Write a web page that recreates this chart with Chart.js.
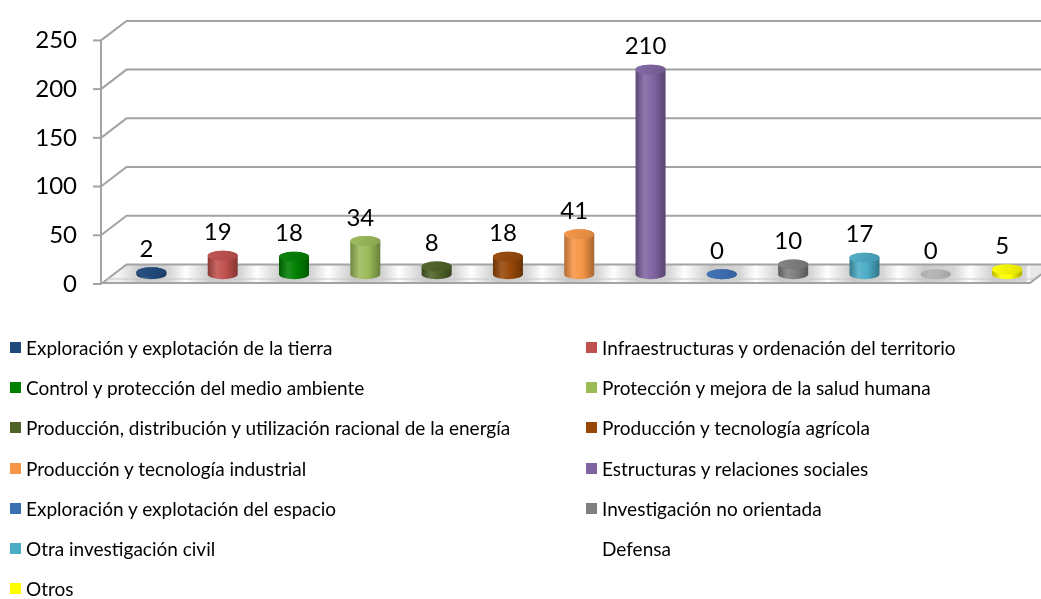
<!DOCTYPE html>
<html>
<head>
<meta charset="utf-8">
<script src="https://cdn.jsdelivr.net/npm/chart.js@4.4.1/dist/chart.umd.min.js"></script>
<style>
  html, body { margin: 0; padding: 0; background: #ffffff; }
  #wrap { position: relative; width: 1041px; height: 599px; overflow: hidden; }
  #c { position: absolute; left: 0; top: 0; }
  .lg { position: absolute; height: 22px; line-height: 22px; font-family: Lato, "Open Sans", sans-serif; font-size: 19px; color: #000; white-space: nowrap; }
  .lg .box { position: absolute; left: 0; top: 5px; width: 11px; height: 11px; }
  .lg .txt { position: absolute; left: 16px; top: 0; }
</style>
</head>
<body>
<div id="wrap">
  <canvas id="c" width="1041" height="599"></canvas>
  <div id="legend"></div>
</div>
<script>
// ---- data ----
const categories = [
  "Exploración y explotación de la tierra",
  "Infraestructuras y ordenación del territorio",
  "Control y protección del medio ambiente",
  "Protección y mejora de la salud humana",
  "Producción, distribución y utilización racional de la energía",
  "Producción y tecnología agrícola",
  "Producción y tecnología industrial",
  "Estructuras y relaciones sociales",
  "Exploración y explotación del espacio",
  "Investigación no orientada",
  "Otra investigación civil",
  "Defensa",
  "Otros"
];
const values = [2, 19, 18, 34, 8, 18, 41, 210, 0, 10, 17, 0, 5];
const colors = ["#1F497D", "#C0504D", "#008000", "#9BBB59", "#4F6228", "#984807",
                "#F79646", "#8064A2", "#3C6EB4", "#7F7F7F", "#4BACC6", "#FFFFFF", "#FFFF00"];
const legendColors = ["#1F497D", "#C0504D", "#008000", "#9BBB59", "#4F6228", "#984807",
                      "#F79646", "#8064A2", "#3C6EB4", "#7F7F7F", "#4BACC6", "transparent", "#FFFF00"];
const yMin = 0, yMax = 250, yStep = 50;

// ---- helpers ----
function hexToRgb(h) {
  h = h.replace('#', '');
  return [parseInt(h.substr(0, 2), 16), parseInt(h.substr(2, 2), 16), parseInt(h.substr(4, 2), 16)];
}
function shade(hex, f) {
  const [r, g, b] = hexToRgb(hex);
  const m = v => Math.max(0, Math.min(255, Math.round(f >= 1 ? v + (255 - v) * (f - 1) : v * f)));
  return `rgb(${m(r)},${m(g)},${m(b)})`;
}

const DX = 25.5, DY = -19.5;
const GRID = '#a3a3a3';
const FONT = 'Lato, "Open Sans", sans-serif';

const frame3d = {
  id: 'frame3d',
  beforeDatasetsDraw(chart) {
    const { ctx, chartArea } = chart;
    const y = chart.scales.y;
    const AX = chartArea.left - 2;
    const W = chart.width;
    ctx.save();
    // floor
    const f0 = y.getPixelForValue(0);
    ctx.beginPath();
    ctx.moveTo(AX, f0);
    ctx.lineTo(AX + DX, f0 + DY);
    ctx.lineTo(chartArea.right + DX, f0 + DY);
    ctx.lineTo(chartArea.right, f0);
    ctx.closePath();
    const g = ctx.createLinearGradient(AX, 0, chartArea.right, 0);
    const span = chartArea.right - AX;
    const meta = chart.getDatasetMeta(0);
    g.addColorStop(0, '#e8e8e8');
    meta.data.forEach((el) => {
      const cx = el.x + DX / 2;
      const o = (cx - AX) / span;
      const hw = 36 / span;
      g.addColorStop(Math.max(0, Math.min(1, o - hw * 0.9)), '#f4f4f4');
      g.addColorStop(Math.max(0, Math.min(1, o - hw * 0.3)), '#c9c9c9');
      g.addColorStop(Math.max(0, Math.min(1, o + hw * 0.5)), '#d6d6d6');
      g.addColorStop(Math.max(0, Math.min(1, o + hw * 0.95)), '#ffffff');
    });
    g.addColorStop(1, '#e8e8e8');
    ctx.fillStyle = g;
    ctx.fill();

    // back wall gridlines + diagonals + ticks
    ctx.strokeStyle = GRID;
    ctx.lineWidth = 2;
    for (let v = yMin; v <= yMax; v += yStep) {
      const yf = y.getPixelForValue(v);
      ctx.beginPath();
      ctx.moveTo(AX, yf);
      ctx.lineTo(AX + DX, yf + DY);
      ctx.lineTo(W + 5, yf + DY);
      ctx.stroke();
      ctx.beginPath();
      ctx.moveTo(AX - 8, yf);
      ctx.lineTo(AX, yf);
      ctx.stroke();
    }
    // front axis
    ctx.beginPath();
    ctx.moveTo(AX, y.getPixelForValue(yMax));
    ctx.lineTo(AX, f0);
    ctx.stroke();
    // floor front edge
    ctx.beginPath();
    ctx.moveTo(AX, f0 - 1);
    ctx.lineTo(chartArea.right, f0 - 1);
    ctx.lineTo(chartArea.right + DX, f0 - 1 + DY);
    ctx.stroke();
    ctx.strokeStyle = '#c8c8c8';
    ctx.lineWidth = 1.2;
    ctx.beginPath();
    ctx.moveTo(AX + 4, f0 - 5);
    ctx.lineTo(chartArea.right + 4, f0 - 5);
    ctx.stroke();
    ctx.restore();
  },
  beforeDatasetDraw() { return false; },
  afterDatasetsDraw(chart) {
    const { ctx } = chart;
    const meta = chart.getDatasetMeta(0);
    const ds = chart.data.datasets[0];
    ctx.save();
    meta.data.forEach((el, i) => {
      const c = ds.backgroundColor[i];
      const cx = el.x + DX / 2;
      const top = el.y + DY / 2;
      const base = el.base + DY / 2;
      const rx = el.width / 2, ry = 5;
      const left = cx - rx, right = cx + rx;
      const isWhite = c.toUpperCase() === '#FFFFFF';
      const baseC = isWhite ? '#b0b0b0' : c;
      const g = ctx.createLinearGradient(left, 0, right, 0);
      g.addColorStop(0, shade(baseC, 0.72));
      g.addColorStop(0.3, shade(baseC, 1.12));
      g.addColorStop(0.6, shade(baseC, 1.0));
      g.addColorStop(1, shade(baseC, 0.68));
      ctx.beginPath();
      ctx.moveTo(left, top);
      ctx.lineTo(left, base);
      ctx.ellipse(cx, base, rx, ry, 0, Math.PI, 0, true);
      ctx.lineTo(right, top);
      ctx.ellipse(cx, top, rx, ry, 0, 0, Math.PI, true);
      ctx.closePath();
      ctx.globalAlpha = isWhite ? 0.5 : 1;
      ctx.fillStyle = g;
      ctx.fill();
      const tg = ctx.createLinearGradient(left, top - ry, right, top + ry);
      tg.addColorStop(0, shade(baseC, 1.05));
      tg.addColorStop(1, shade(baseC, 0.88));
      ctx.beginPath();
      ctx.ellipse(cx, top, rx, ry, 0, 0, Math.PI * 2);
      ctx.fillStyle = tg;
      ctx.fill();
      ctx.globalAlpha = 1;
      ctx.fillStyle = '#000';
      ctx.font = '24px ' + FONT;
      ctx.textAlign = 'center';
      ctx.textBaseline = 'middle';
      ctx.fillText(String(values[i]), cx - 5, top - 23);
    });
    ctx.restore();
  }
};

const chart = new Chart(document.getElementById('c'), {
  type: 'bar',
  data: {
    labels: categories,
    datasets: [{
      data: values,
      backgroundColor: colors,
      barThickness: 30
    }]
  },
  options: {
    responsive: false,
    animation: false,
    events: [],
    layout: { padding: { top: 35, bottom: 599 - 284, left: 0, right: 11 } },
    plugins: { legend: { display: false }, tooltip: { enabled: false } },
    scales: {
      x: { display: false, offset: true },
      y: {
        min: yMin, max: yMax,
        ticks: { stepSize: yStep, padding: 26, color: '#000', font: { family: FONT, size: 24 } },
        grid: { display: false, drawTicks: false },
        border: { display: false },
        afterFit(scale) { scale.width = 103; }
      }
    }
  },
  plugins: [frame3d]
});

// ---- HTML legend ----
const lg = document.getElementById('legend');
categories.forEach((name, i) => {
  const row = Math.floor(i / 2), col = i % 2;
  const d = document.createElement('div');
  d.className = 'lg';
  d.style.left = (col === 0 ? 10 : 586) + 'px';
  d.style.top = (348 + row * 40.2 - 11) + 'px';
  d.innerHTML = `<span class="box" style="background:${legendColors[i]}"></span><span class="txt"></span>`;
  d.querySelector('.txt').textContent = name;
  lg.appendChild(d);
});
</script>
</body>
</html>
